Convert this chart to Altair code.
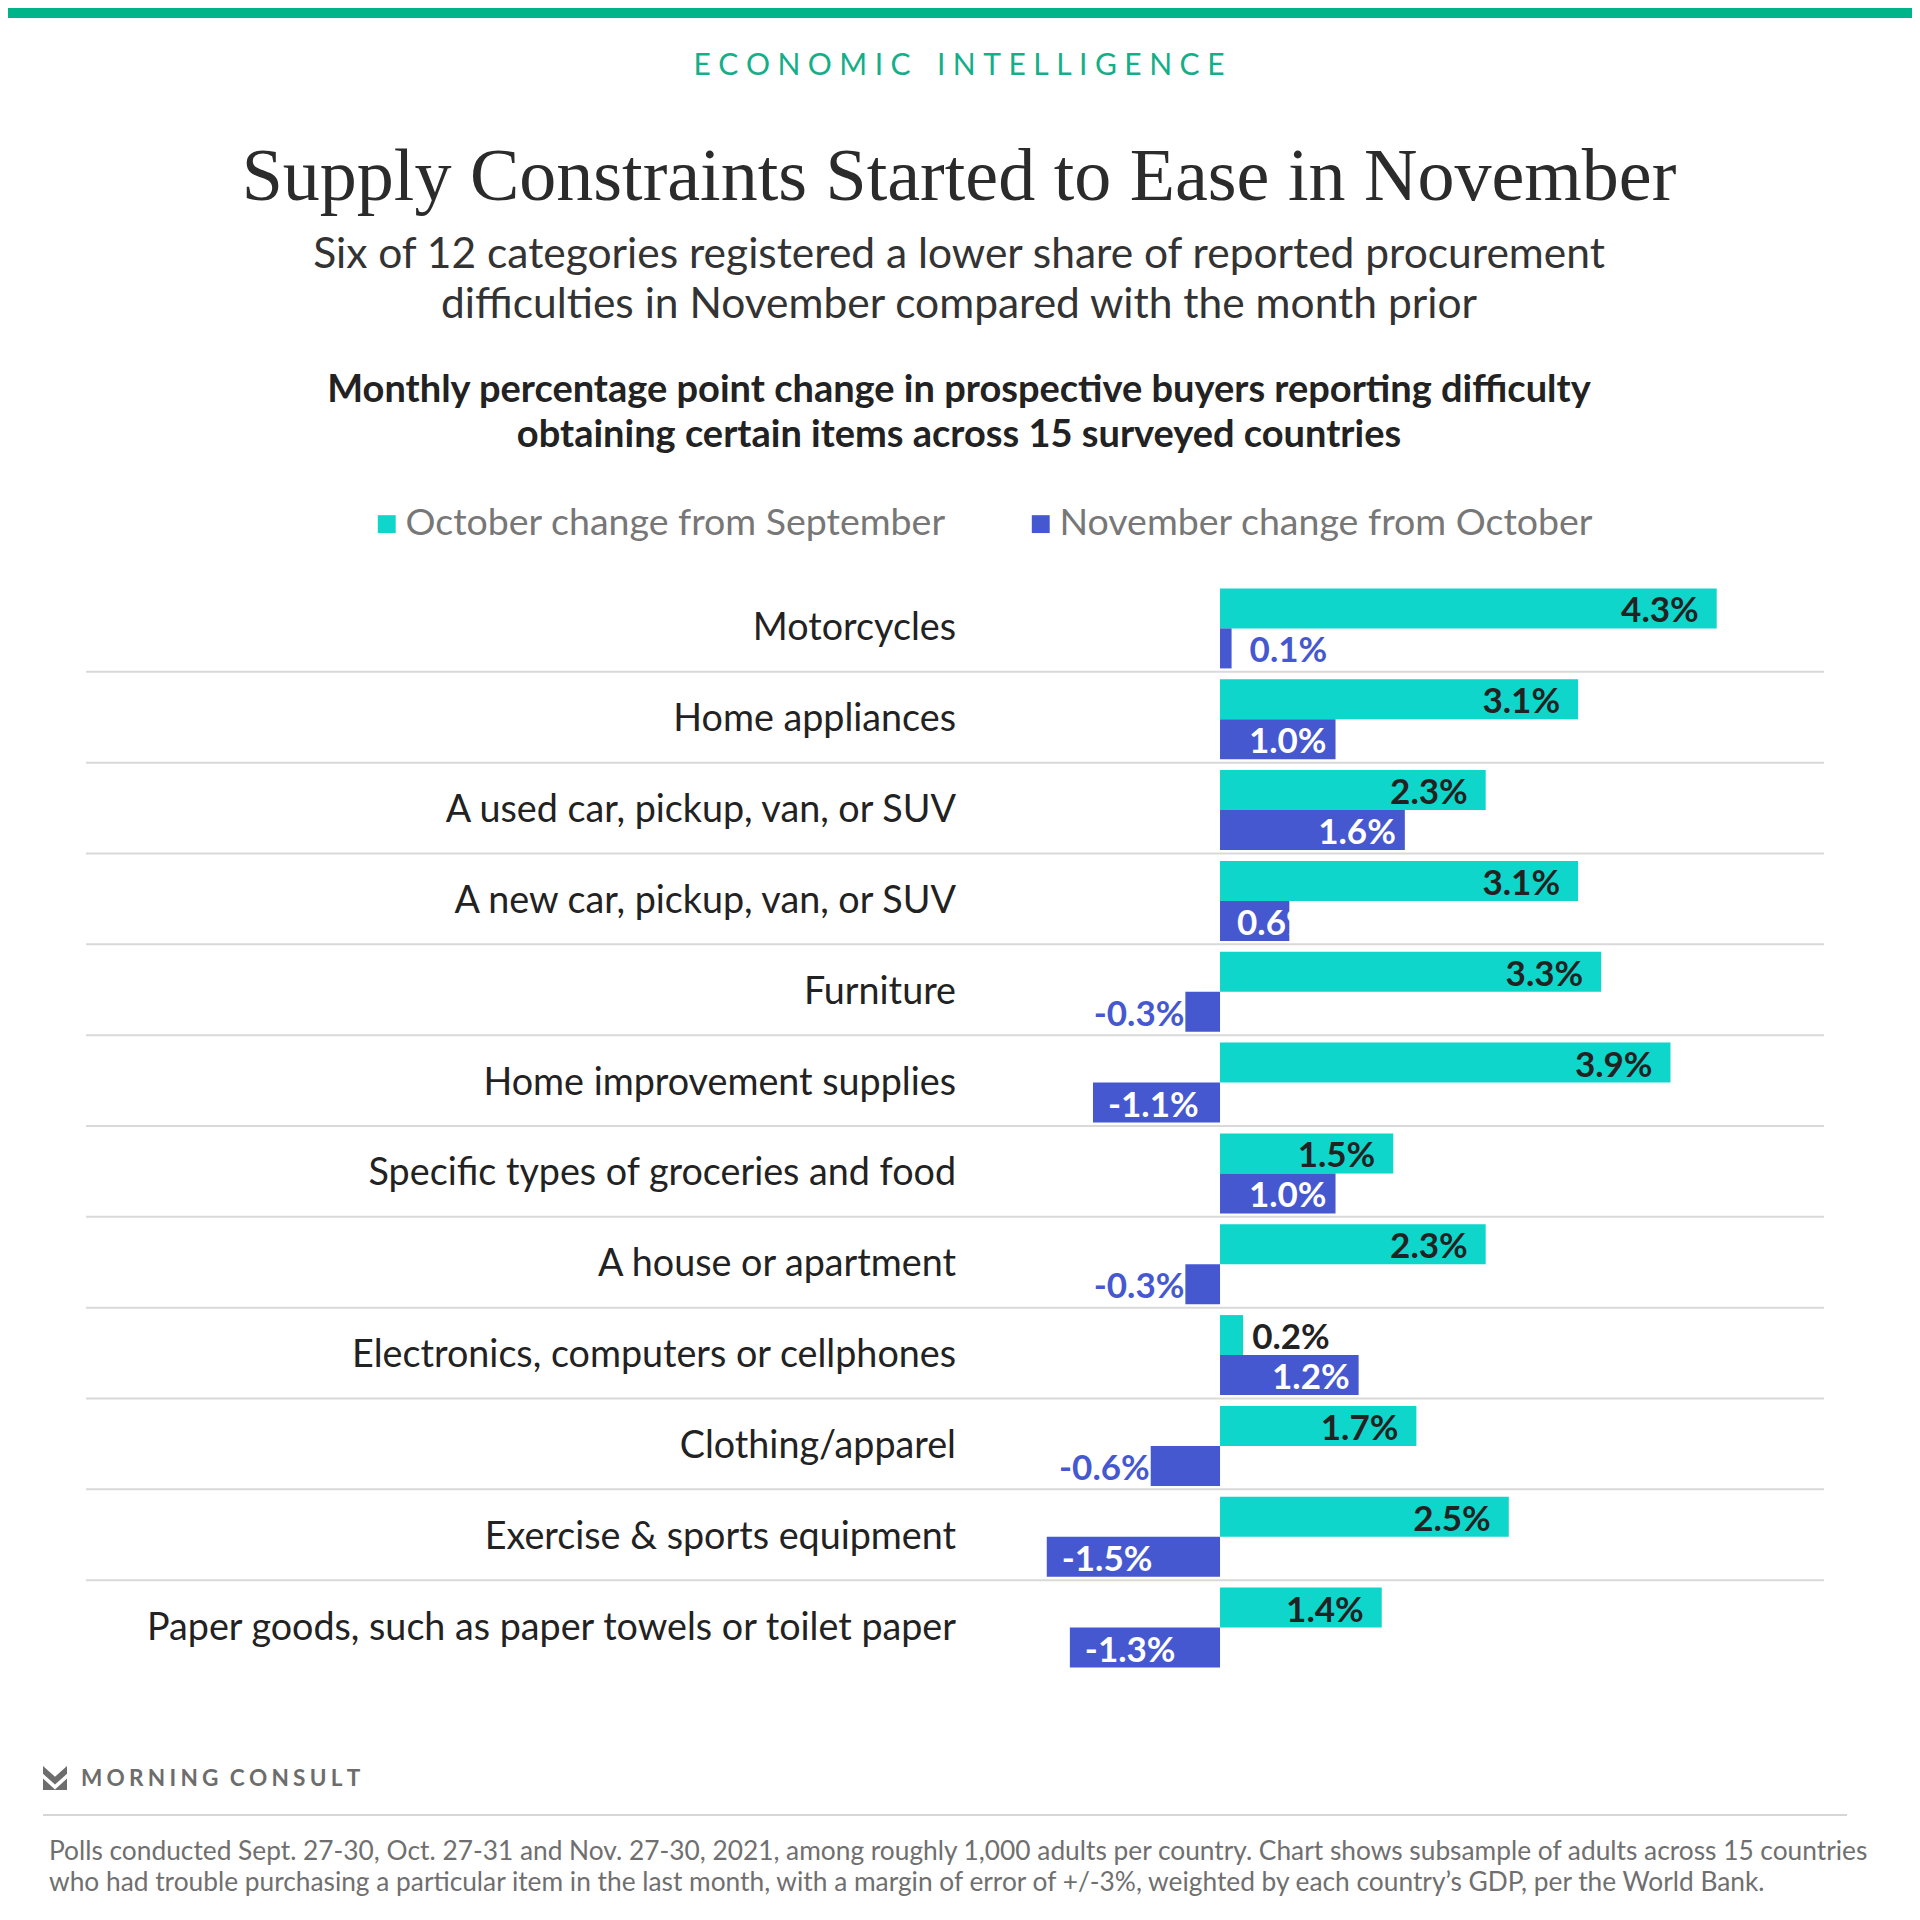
import altair as alt
import pandas as pd

# ---------------- data ----------------
categories = [
    "Motorcycles",
    "Home appliances",
    "A used car, pickup, van, or SUV",
    "A new car, pickup, van, or SUV",
    "Furniture",
    "Home improvement supplies",
    "Specific types of groceries and food",
    "A house or apartment",
    "Electronics, computers or cellphones",
    "Clothing/apparel",
    "Exercise & sports equipment",
    "Paper goods, such as paper towels or toilet paper",
]
oct_values = [4.3, 3.1, 2.3, 3.1, 3.3, 3.9, 1.5, 2.3, 0.2, 1.7, 2.5, 1.4]
nov_values = [0.1, 1.0, 1.6, 0.6, -0.3, -1.1, 1.0, -0.3, 1.2, -0.6, -1.5, -1.3]
series_names = ["October change from September", "November change from October"]

kicker = "ECONOMIC INTELLIGENCE"
title = "Supply Constraints Started to Ease in November"
subtitle = ("Six of 12 categories registered a lower share of reported procurement\n"
            "difficulties in November compared with the month prior")
chart_sub = ("Monthly percentage point change in prospective buyers reporting difficulty\n"
             "obtaining certain items across 15 surveyed countries")
brand = "MORNING CONSULT"
footnote = ("Polls conducted Sept. 27-30, Oct. 27-31 and Nov. 27-30, 2021, among roughly 1,000 adults per country. "
            "Chart shows subsample of adults across 15 countries\n"
            "who had trouble purchasing a particular item in the last month, with a margin of error of +/-3%, "
            "weighted by each country\u2019s GDP, per the World Bank.")

rows = []
for c, o, n in zip(categories, oct_values, nov_values):
    rows.append({"category": c, "series": series_names[0], "value": o, "label": f"{o:.1f}%"})
    rows.append({"category": c, "series": series_names[1], "value": n, "label": f"{n:.1f}%"})
df = pd.DataFrame(rows)

# ---------------- style ----------------
FONT = "Lato"
SERIF = "Liberation Serif"
TEAL = "#0FD6CA"
BLUE = "#4658CF"
GREEN = "#00B48A"
DARK = "#222222"

W, H = 1738, 1090
STEP = H / len(categories)
PAD = {"left": 78, "top": 573, "right": 88, "bottom": 241}
CX = 873
BAR_H = 40
OFF = {series_names[0]: -18, series_names[1]: 22}


def spaced(s, gap="\u2009", word="\u2003"):
    return word.join(gap.join(list(w)) for w in s.split(" "))


XSCALE = alt.Scale(domain=[-9.818, 5.229], nice=False)
X = alt.X("value:Q", scale=XSCALE, axis=None)
Y = alt.Y("category:N", sort=categories, scale=alt.Scale(paddingInner=0, paddingOuter=0), axis=None)
COLOR = alt.Color(
    "series:N", sort=series_names,
    scale=alt.Scale(domain=series_names, range=[TEAL, BLUE]),
    legend=alt.Legend(
        title=None, orient="none", legendX=282, legendY=-76, direction="horizontal",
        symbolType="square", symbolSize=320, symbolStrokeWidth=0,
        labelFont=FONT, labelFontSize=37.5, labelColor="#777777", labelOffset=0,
        labelLimit=0, columnPadding=76,
    ),
)

base = alt.Chart(df)
isO = f"datum.series == '{series_names[0]}'"

# separators between rows (drawn at the top edge of rows 2..12)
seps = base.transform_filter(
    alt.FieldOneOfPredicate(field="category", oneOf=categories[1:])
).transform_filter(isO).mark_rule(
    color="#d9d9d9", strokeWidth=2, yOffset=-STEP / 2
).encode(y=Y, x=alt.value(0), x2=alt.value(W))

bar_layers = []
for s in series_names:
    bar_layers.append(
        base.transform_filter(f"datum.series == '{s}'").mark_bar(
            height=BAR_H, yOffset=OFF[s]
        ).encode(x=X, y=Y, color=COLOR)
    )


def lbl(series, expr, align, dx, color, xfield="value:Q"):
    return base.transform_filter(f"datum.series == '{series}' && ({expr})").transform_calculate(
        zero="0"
    ).mark_text(
        align=align, dx=dx, dy=OFF[series] + 3, baseline="middle", font=FONT, fontWeight="bold",
        fontSize=35, color=color,
    ).encode(x=alt.X(xfield, scale=XSCALE, axis=None), y=Y, text="label:N")


S0, S1 = series_names
labels = [
    lbl(S0, "datum.value >= 0.5", "right", -18, DARK),
    lbl(S0, "datum.value < 0.5", "left", 9, DARK),
    lbl(S1, "datum.value >= 0.8", "right", -9, "white"),
    lbl(S1, "datum.value >= 0.5 && datum.value < 0.8", "left", 17, "white", "zero:Q"),
    lbl(S1, "datum.value >= 0 && datum.value < 0.5", "left", 18, BLUE),
    lbl(S1, "datum.value < 0 && datum.value > -1.0", "right", -1, BLUE),
    lbl(S1, "datum.value <= -1.0", "left", 15, "white"),
]

cat_labels = base.transform_filter(isO).mark_text(
    align="right", baseline="middle", font=FONT, fontSize=37.7, color=DARK, dy=3
).encode(y=Y, x=alt.value(870), text="category:N")


def note(text, **kw):
    return alt.Chart(pd.DataFrame({"t": [text]})).mark_text(**kw).encode(text="t:N")


top_band = alt.Chart(pd.DataFrame({"a": [0]})).mark_rect(color=GREEN).encode(
    x=alt.value(-PAD["left"]), x2=alt.value(W + PAD["right"]),
    y=alt.value(-PAD["top"]), y2=alt.value(-PAD["top"] + 10),
)

kicker_t = note(spaced(kicker, gap="\u2009\u2009", word="\u2003\u2009"), font=FONT, fontSize=30,
                color="#14AE88", align="center", baseline="middle").encode(x=alt.value(CX), y=alt.value(-515))
title_t = note(title, font=SERIF, fontSize=74, color="#2b2b2b", align="center",
               baseline="alphabetic").encode(x=alt.value(CX), y=alt.value(-381))
sub_t = note(subtitle, font=FONT, fontSize=42.5, color="#333333", align="center", baseline="alphabetic",
             lineBreak="\n", lineHeight=50).encode(x=alt.value(CX), y=alt.value(-313))
csub_t = note(chart_sub, font=FONT, fontSize=38, fontWeight="bold", color=DARK, align="center",
              baseline="alphabetic", lineBreak="\n", lineHeight=45).encode(x=alt.value(CX), y=alt.value(-179))

logo_path = ("M-1,-1 L0,-0.1 L1,-1 L1,-0.35 L0,0.55 L-1,-0.35 Z "
             "M-1,0.05 L0,0.95 L1,0.05 L1,1 L-1,1 Z")
logo = alt.Chart(pd.DataFrame({"a": [0]})).mark_point(
    shape=logo_path, filled=True, size=576, color="#6d6d6d", opacity=1
).encode(x=alt.value(-31), y=alt.value(1197))
brand_t = note(spaced(brand, gap="\u2009\u200a", word="\u2002"), font=FONT, fontSize=22.6, fontWeight="bold",
               color="#6d6d6d", align="left", baseline="middle").encode(x=alt.value(-5), y=alt.value(1198))
foot_rule = alt.Chart(pd.DataFrame({"a": [0]})).mark_rule(color="#d6d6d6", strokeWidth=2).encode(
    x=alt.value(-43), x2=alt.value(1761), y=alt.value(1234))
foot_t = note(footnote, font=FONT, fontSize=26.3, color="#6f6f6f", align="left", baseline="alphabetic",
              lineBreak="\n", lineHeight=31).encode(x=alt.value(-37), y=alt.value(1279))

chart = alt.layer(
    top_band, seps, *bar_layers, *labels, cat_labels,
    kicker_t, title_t, sub_t, csub_t, logo, brand_t, foot_rule, foot_t,
).properties(
    width=W, height=H, padding=PAD, autosize=alt.AutoSizeParams(type="none"),
    background="white",
).configure_view(stroke=None)

chart.save("out.html", embed_options={"renderer": "svg", "actions": False})
